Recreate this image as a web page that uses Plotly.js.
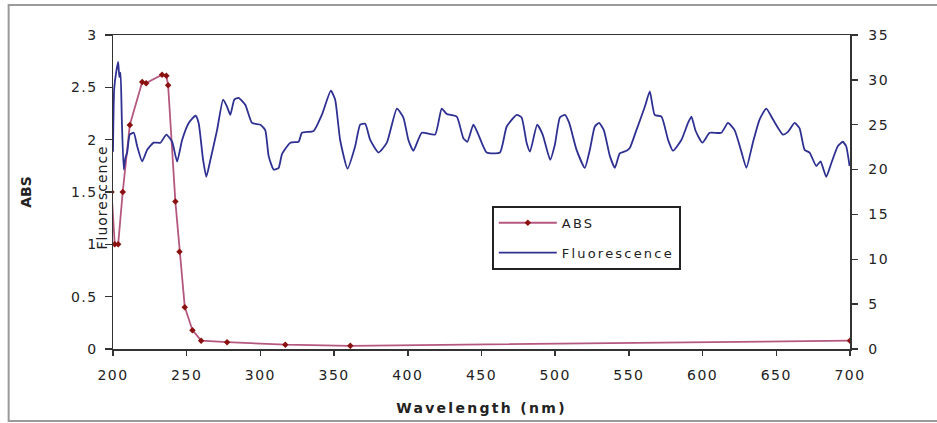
<!DOCTYPE html>
<html>
<head>
<meta charset="utf-8">
<script src="https://cdn.plot.ly/plotly-3.0.1.min.js"></script>
<style>
  html, body { margin:0; padding:0; background:#fff; }
  #chart { width:937px; height:423px; }
  .xtick text, .ytick text, .y2tick text { letter-spacing: 1.5px; }
  .legendtext { letter-spacing: 2.2px; }
  .xtitle { letter-spacing: 2.3px; }
  .annotation-text { letter-spacing: 1px; }
</style>
</head>
<body>
<div id="chart"></div>
<script>
// ABS series (left axis)
const absWavelength = [199, 201.2, 203.5, 206.6, 211.4, 219.8, 222.5, 233.3, 236.2, 237.4, 242.3, 245.1, 248.7, 253.9, 259.8, 277.4, 316.9, 361.0, 700];
const absValues     = [1.5, 1.0, 1.0, 1.5, 2.14, 2.55, 2.54, 2.62, 2.61, 2.52, 1.41, 0.93, 0.40, 0.18, 0.08, 0.065, 0.041, 0.03, 0.08];

// Fluorescence series (right axis)
const fluoWavelength = [200, 200.8, 202.3, 203.5, 204.3, 205.1, 206.0, 207.3, 208.4, 209.6, 211.4, 214.1, 216.4, 219.8, 223.2, 227.6, 232.2, 236.2, 240.1, 243.5, 246.9, 251.4, 256.0, 258.1, 261.1, 263.3, 266.1, 270.6, 274.7, 277.4, 279.6, 282.3, 285.2, 289.8, 294.3, 300.0, 303.3, 305.6, 309.0, 312.4, 314.6, 320.3, 325.9, 328.2, 336.1, 341.7, 347.8, 350.7, 354.1, 359.1, 364.3, 367.7, 371.1, 374.5, 380.1, 385.8, 392.6, 397.0, 400.4, 403.8, 409.5, 418.5, 423.0, 426.4, 433.2, 437.7, 440.4, 444.5, 447.9, 453.5, 462.5, 467.1, 473.9, 477.2, 480.6, 482.9, 487.8, 491.5, 496.6, 499.8, 503.2, 506.6, 509.5, 514.5, 520.1, 523.5, 526.9, 529.8, 533.0, 537.1, 540.5, 543.8, 548.4, 550.6, 555.1, 560.8, 564.2, 567.5, 572.1, 576.6, 579.9, 585.6, 590.1, 592.4, 595.3, 599.9, 604.8, 612.7, 617.2, 621.7, 626.3, 629.7, 634.1, 638.7, 643.2, 647.7, 654.5, 657.9, 662.4, 665.8, 669.2, 672.6, 677.1, 680.0, 683.9, 687.3, 691.7, 695.1, 697.4, 699.7];
const fluoValues     = [22.0, 29.0, 31.0, 32.0, 30.3, 30.8, 25.5, 20.0, 21.3, 21.9, 23.9, 24.1, 22.6, 20.9, 22.2, 23.0, 23.0, 23.9, 23.1, 20.9, 23.3, 25.2, 26.0, 25.2, 21.1, 19.2, 21.1, 24.4, 27.8, 27.0, 26.1, 27.8, 28.0, 27.2, 25.2, 25.0, 24.4, 21.5, 20.0, 20.2, 21.7, 23.0, 23.1, 24.1, 24.3, 26.1, 28.8, 27.8, 23.3, 20.1, 22.6, 25.0, 25.1, 23.3, 21.9, 23.0, 26.8, 25.8, 23.3, 22.1, 24.1, 23.9, 26.8, 26.2, 25.9, 23.5, 23.1, 25.0, 23.9, 21.9, 21.9, 24.8, 26.1, 25.8, 23.0, 22.0, 25.0, 23.9, 21.1, 22.8, 25.8, 26.1, 25.2, 22.2, 20.2, 22.2, 24.8, 25.2, 24.4, 21.5, 20.2, 21.8, 22.1, 22.4, 24.4, 27.0, 28.7, 26.1, 25.9, 23.3, 22.1, 23.3, 25.2, 25.9, 24.3, 23.0, 24.1, 24.1, 25.2, 24.4, 22.0, 20.2, 23.0, 25.6, 26.8, 25.6, 23.9, 24.2, 25.2, 24.6, 22.2, 21.9, 20.4, 20.9, 19.2, 20.7, 22.6, 23.1, 22.6, 20.4];

// Tick labels
const xTicks = [200, 250, 300, 350, 400, 450, 500, 550, 600, 650, 700];
const yTicks = [0, 0.5, 1, 1.5, 2, 2.5, 3];
const yTickText = ['0', '0.5', '1', '1.5', '2', '2.5', '3'];
const y2Ticks = [0, 5, 10, 15, 20, 25, 30, 35];

const tickFont = {family: 'DejaVu Sans', size: 14, color: '#222'};

const traces = [
  {
    x: absWavelength, y: absValues, name: 'ABS', type: 'scatter', mode: 'lines+markers',
    line: {color: '#b5587f', width: 1.8},
    marker: {symbol: 'diamond', size: 5, color: '#8b1010'},
    legendgroup: 'a', yaxis: 'y'
  },
  {
    x: fluoWavelength, y: fluoValues, name: 'Fluorescence', type: 'scatter', mode: 'lines',
    line: {color: '#2e3192', width: 1.8, shape: 'spline', smoothing: 0.5},
    legendgroup: 'b', yaxis: 'y2'
  }
];

const L = 112.5, R = 86.5, T = 35, B = 74;
const W = 937, H = 423;
const pw = W - L - R, ph = H - T - B;
const px2x = p => (p - L) / pw;
const py2y = p => (H - B - p) / ph;

const layout = {
  width: W, height: H,
  margin: {l: L, r: R, t: T, b: B, pad: 0},
  paper_bgcolor: '#fff', plot_bgcolor: '#fff',
  showlegend: true,
  legend: {
    x: px2x(492), y: py2y(206), xanchor: 'left', yanchor: 'top',
    bgcolor: '#fff', bordercolor: '#222', borderwidth: 1.8,
    font: {family: 'DejaVu Sans', size: 13, color: '#222'},
    traceorder: 'grouped', tracegroupgap: 10, itemwidth: 58
  },
  xaxis: {
    range: [200, 700], tickvals: xTicks, ticks: 'outside', ticklen: 5, tickwidth: 1.5, tickcolor: '#333',
    showline: true, linecolor: '#333', linewidth: 1.5, mirror: true, showgrid: false, zeroline: false,
    tickfont: tickFont, ticklabelstandoff: 8,
    title: {text: 'Wavelength (nm)', font: {family: 'DejaVu Sans', size: 14, color: '#222', weight: 'bold'}, standoff: 21}
  },
  yaxis: {
    range: [0, 3], tickvals: yTicks, ticktext: yTickText, ticks: 'outside', ticklen: 7, tickwidth: 1.5, tickcolor: '#333',
    showline: true, linecolor: '#333', linewidth: 1.5, showgrid: false, zeroline: false,
    tickfont: tickFont, ticklabelstandoff: 4,
    title: {text: 'ABS', font: {family: 'DejaVu Sans', size: 14, color: '#222', weight: 'bold'}, standoff: 36}
  },
  yaxis2: {
    range: [0, 35], tickvals: y2Ticks, overlaying: 'y', side: 'right', ticks: 'outside', ticklen: 6, tickwidth: 1.5, tickcolor: '#333',
    showline: true, linecolor: '#333', linewidth: 1.5, showgrid: false, zeroline: false,
    tickfont: tickFont, ticklabelstandoff: 8
  },
  annotations: [{
    text: 'Fluorescence', xref: 'paper', yref: 'paper', x: px2x(101), y: py2y(198),
    xanchor: 'center', yanchor: 'middle', textangle: -90, showarrow: false,
    font: {family: 'DejaVu Sans', size: 14, color: '#222'}
  }],
  shapes: [{
    type: 'rect', xref: 'paper', yref: 'paper', layer: 'below',
    x0: px2x(8), x1: px2x(960), y0: py2y(421), y1: py2y(5),
    line: {color: '#9a9a9a', width: 2}, fillcolor: 'rgba(0,0,0,0)'
  }]
};

Plotly.newPlot('chart', traces, layout, {displayModeBar: false, staticPlot: true});
</script>
</body>
</html>
